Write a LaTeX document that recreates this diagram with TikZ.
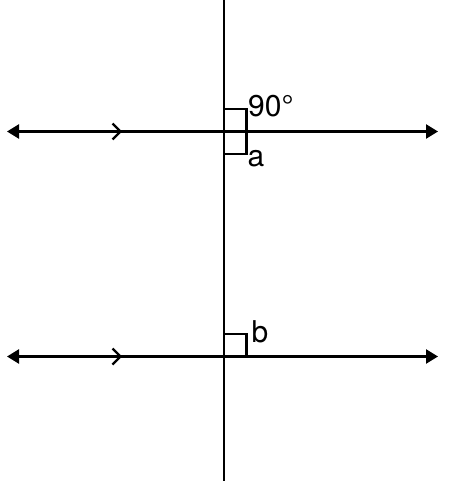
\documentclass[tikz,border=0pt]{standalone}
\usepackage{fontspec}
\setmainfont{TeX Gyre Heros}
\usetikzlibrary{arrows.meta}
\begin{document}
\begin{tikzpicture}[x=1pt,y=-1pt,
  ln/.style={line width=2.4pt,black},
  dbl/.style={ln,{Triangle[length=12pt,width=14pt]}-{Triangle[length=12pt,width=14pt]}},
  rbox/.style={line width=2.4pt,black},
  lbl/.style={font=\fontsize{30}{33}\selectfont,inner sep=0pt,anchor=base west}]
\useasboundingbox (0,0) rectangle (452,484);
% vertical transversal
\coordinate (Vt) at (224,0);
\coordinate (Vb) at (224,481);
\draw[ln] (Vt) -- (Vb);
% parallel lines
\coordinate (A1) at (7,131.5);
\coordinate (A2) at (438,131.5);
\coordinate (B1) at (7,356.5);
\coordinate (B2) at (438,356.5);
\draw[dbl] (A1) -- (A2);
\draw[dbl] (B1) -- (B2);
% parallel marks
\coordinate (M1) at (120.5,131.5);
\coordinate (M2) at (120.5,356.5);
\draw[ln] ([shift={(-8,-8)}]M1) -- (M1) -- ([shift={(-8,8)}]M1);
\draw[ln] ([shift={(-8,-8)}]M2) -- (M2) -- ([shift={(-8,8)}]M2);
% right angle boxes
\coordinate (P1) at (224,131.5);
\coordinate (P2) at (224,356.5);
\draw[rbox] (224,109) -- (246.5,109) -- (246.5,154) -- (224,154);
\draw[rbox] (224,334) -- (246.5,334) -- (246.5,356.5);
% labels
\node[lbl] (t90) at (248,116.5) {90°};
\node[lbl] (ta) at (247.5,166.5) {a};
\node[lbl] (tb) at (251.5,342) {b};
\end{tikzpicture}
\end{document}
